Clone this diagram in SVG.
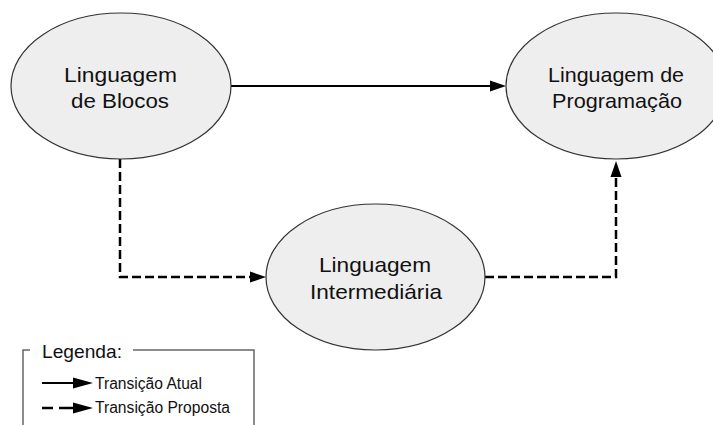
<svg xmlns="http://www.w3.org/2000/svg" width="713" height="425" viewBox="0 0 713 425">
<style>
.node ellipse{fill:#eeeeee;stroke:#333333;stroke-width:1.2}
.lbl{font-family:"Liberation Sans",Arial,sans-serif;font-size:21px;fill:#111111;text-anchor:middle}
.leg{font-family:"Liberation Sans",Arial,sans-serif;font-size:16px;fill:#111111}
.solid{fill:none;stroke:#000;stroke-width:2}
.dash{fill:none;stroke:#000;stroke-width:2.5;stroke-dasharray:9 4}
</style>
<defs>
<marker id="ah" markerUnits="userSpaceOnUse" markerWidth="16" markerHeight="12" refX="0" refY="6" orient="auto">
<path d="M0,0.5 L16,6 L0,11.5 z" fill="#000"/>
</marker>
<marker id="ahl" markerUnits="userSpaceOnUse" markerWidth="20" markerHeight="12" refX="0" refY="6" orient="auto">
<path d="M0,0.5 L20,6 L0,11.5 z" fill="#000"/>
</marker>
</defs>
<g id="connectors">
<path class="solid" d="M231,86 H490" marker-end="url(#ah)"/>
<path class="dash" d="M120,159 V277 H250" marker-end="url(#ah)"/>
<path class="dash" d="M485,277 H616 V177" marker-end="url(#ah)"/>
</g>
<g id="n-blocos" class="node">
<ellipse cx="121" cy="86" rx="110" ry="73"/>
<text class="lbl" x="120.5" y="82" textLength="113" lengthAdjust="spacingAndGlyphs">Linguagem</text>
<text class="lbl" x="120" y="108" textLength="98" lengthAdjust="spacingAndGlyphs">de Blocos</text>
</g>
<g id="n-programacao" class="node">
<ellipse cx="616" cy="86" rx="110" ry="73"/>
<text class="lbl" x="616" y="82" textLength="136" lengthAdjust="spacingAndGlyphs">Linguagem de</text>
<text class="lbl" x="617" y="108" textLength="130" lengthAdjust="spacingAndGlyphs">Programação</text>
</g>
<g id="n-intermediaria" class="node">
<ellipse cx="375.5" cy="277" rx="109.5" ry="73"/>
<text class="lbl" x="375" y="272" textLength="112" lengthAdjust="spacingAndGlyphs">Linguagem</text>
<text class="lbl" x="376" y="299" textLength="132" lengthAdjust="spacingAndGlyphs">Intermediária</text>
</g>
<g id="legend">
<path d="M30,350 H23 V425 M133,350 H254 V425" fill="none" stroke="#666666" stroke-width="1.5"/>
<text class="leg" x="42" y="358" style="font-size:19px" textLength="80" lengthAdjust="spacingAndGlyphs">Legenda:</text>
<path d="M42,383 H73" fill="none" stroke="#000" stroke-width="2" marker-end="url(#ahl)"/>
<text class="leg" x="95" y="389" textLength="107" lengthAdjust="spacingAndGlyphs">Transição Atual</text>
<path d="M42,408 H53 M59,408 H73" fill="none" stroke="#000" stroke-width="2.5" marker-end="url(#ahl)"/>
<text class="leg" x="95" y="413" textLength="135" lengthAdjust="spacingAndGlyphs">Transição Proposta</text>
</g>
</svg>
